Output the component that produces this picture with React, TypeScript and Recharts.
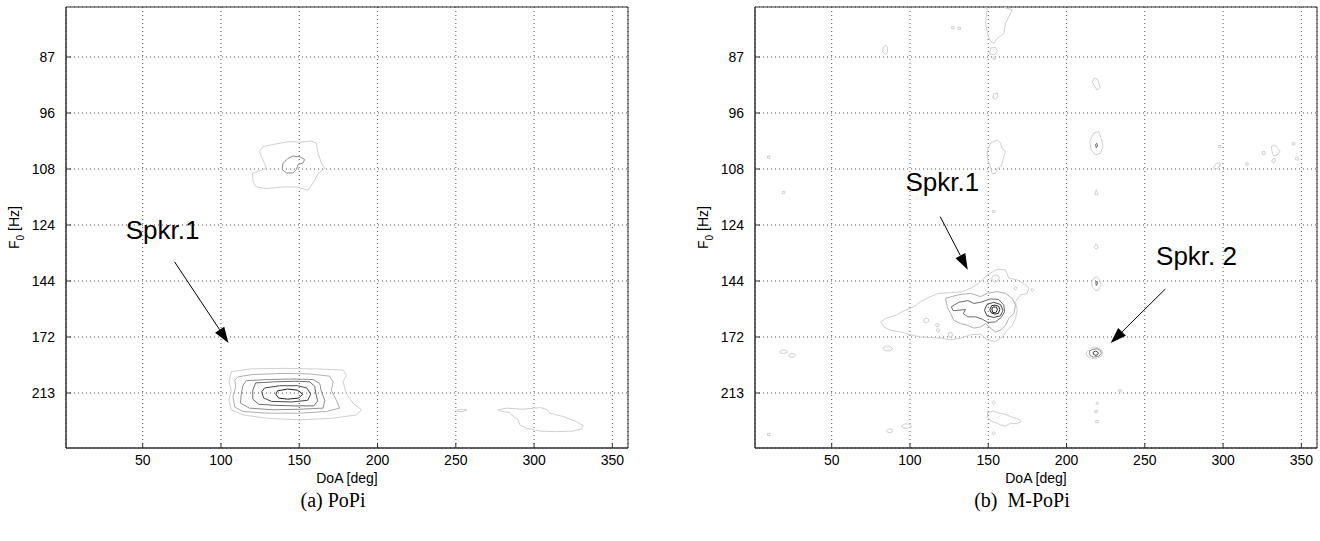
import React from 'react'
import { ScatterChart, Scatter, XAxis, YAxis, CartesianGrid, ReferenceLine, ReferenceDot, ReferenceArea } from 'recharts'

// Two contour maps (DoA x F0) redrawn as closed polylines on numeric axes.
// The F0 axis is uniform in pitch lag, so rows are indexed 1..7 at the tick labels.

type Pt = [number, number]
interface Contour { pts: Pt[]; level: number; open?: boolean }
interface Arrow { from: Pt; to: Pt }
interface Note { at: Pt; text: string }

const DOA_TICKS = [50, 100, 150, 200, 250, 300, 350]
const F0_ROWS = [1, 2, 3, 4, 5, 6, 7]
const F0_LABELS = ['87', '96', '108', '124', '144', '172', '213']
const DOA_DOMAIN: [number, number] = [1, 360]
const ROW_DOMAIN: [number, number] = [0.107, 7.982]

// outer (light) -> inner (dark)
const LEVEL_COLORS = ['#d0d0d0', '#b0b0b0', '#8e8e8e', '#6c6c6c', '#484848', '#202020']

// ---- (a) PoPi ----
const popiSpk1L1: Pt[] = [[106.6, 6.62], [118.3, 6.57], [139.6, 6.56], [161.0, 6.57], [178.0, 6.59], [180.1, 6.68], [178.0, 6.80], [180.1, 7.01], [184.3, 7.18], [189.7, 7.30], [186.5, 7.39], [171.6, 7.45], [150.3, 7.48], [129.0, 7.45], [114.1, 7.39], [106.6, 7.30], [105.1, 7.13], [106.6, 6.95], [105.1, 6.80]]
const popiSpk1L2: Pt[] = [[110.9, 6.71], [120.4, 6.67], [139.6, 6.65], [156.7, 6.66], [169.5, 6.70], [171.6, 6.80], [170.5, 6.95], [173.7, 7.13], [175.8, 7.27], [167.3, 7.33], [150.3, 7.36], [129.0, 7.36], [114.1, 7.33], [108.8, 7.25], [107.7, 7.07], [109.4, 6.89], [108.8, 6.77]]
const popiSpk1L3: Pt[] = [[116.2, 6.78], [129.0, 6.76], [146.0, 6.75], [158.8, 6.76], [163.1, 6.83], [164.2, 6.98], [166.3, 7.13], [165.2, 7.27], [150.3, 7.29], [133.2, 7.30], [118.2, 7.27], [112.4, 7.18], [113.0, 7.01], [114.1, 6.86]]
const popiSpk1L4: Pt[] = [[122.2, 6.82], [134.3, 6.80], [147.1, 6.79], [156.7, 6.80], [159.9, 6.88], [160.5, 7.00], [161.8, 7.14], [159.2, 7.23], [147.1, 7.23], [134.3, 7.22], [124.1, 7.20], [120.3, 7.11], [120.3, 6.95]]
const popiSpk1L5: Pt[] = [[127.9, 6.91], [137.5, 6.87], [149.0, 6.87], [154.8, 6.91], [157.3, 7.02], [155.4, 7.13], [145.2, 7.16], [132.4, 7.15], [127.3, 7.09], [126.0, 6.98]]
const popiSpk1L6: Pt[] = [[136.2, 6.96], [142.6, 6.93], [149.0, 6.95], [152.2, 7.02], [149.7, 7.09], [142.6, 7.11], [136.8, 7.09], [135.0, 7.02]]
const popiUpperOuter: Pt[] = [[124.7, 2.69], [126.8, 2.60], [135.4, 2.55], [143.9, 2.51], [150.3, 2.52], [157.8, 2.50], [161.0, 2.54], [162.0, 2.72], [164.2, 2.90], [166.3, 2.99], [162.0, 3.08], [159.9, 3.20], [157.8, 3.29], [155.6, 3.38], [152.4, 3.35], [148.2, 3.32], [139.6, 3.32], [129.0, 3.35], [122.6, 3.32], [120.5, 3.23], [120.1, 3.08], [125.8, 3.02], [129.0, 2.99], [127.9, 2.90], [125.8, 2.78]]
const popiUpperInner: Pt[] = [[139.6, 2.90], [142.8, 2.81], [146.0, 2.77], [150.3, 2.78], [153.5, 2.83], [152.4, 2.89], [149.2, 2.92], [148.2, 3.01], [146.0, 3.07], [141.8, 3.07], [139.2, 3.01]]
const popiSmallBlob: Pt[] = [[250.8, 7.30], [253.6, 7.29], [257.2, 7.30], [254.6, 7.33], [251.4, 7.33]]
const popiTailBlob: Pt[] = [[277.0, 7.30], [282.4, 7.27], [293.0, 7.29], [303.7, 7.26], [307.9, 7.29], [310.0, 7.36], [318.5, 7.42], [327.1, 7.51], [331.3, 7.58], [330.3, 7.64], [324.9, 7.68], [314.3, 7.69], [303.7, 7.68], [295.2, 7.63], [290.9, 7.57], [289.8, 7.48], [285.6, 7.39], [284.5, 7.35], [279.2, 7.33]]

const POPI_CONTOURS: Contour[] = [
  { pts: popiSpk1L1, level: 0 },
  { pts: popiSpk1L2, level: 1 },
  { pts: popiSpk1L3, level: 2 },
  { pts: popiSpk1L4, level: 3 },
  { pts: popiSpk1L5, level: 4 },
  { pts: popiSpk1L6, level: 5 },
  { pts: popiUpperOuter, level: 0 },
  { pts: popiUpperInner, level: 2 },
  { pts: popiSmallBlob, level: 0 },
  { pts: popiTailBlob, level: 0 },
]
const POPI_ARROWS: Arrow[] = [{ from: [70.4, 4.66], to: [104.8, 6.107] }]
const POPI_NOTES: Note[] = [{ at: [39.1, 4.257], text: 'Spkr.1' }]

// ---- (b) M-PoPi ----
const mSpk1Outer: Pt[] = [[151.4, 4.86], [155.7, 4.79], [161.0, 4.80], [163.1, 4.95], [168.5, 4.98], [172.7, 5.04], [175.9, 5.13], [174.9, 5.22], [170.6, 5.25], [167.4, 5.37], [168.5, 5.52], [167.4, 5.67], [165.3, 5.79], [162.1, 5.88], [158.9, 6.00], [154.6, 6.08], [149.3, 6.05], [145.1, 5.95], [138.7, 5.96], [132.3, 6.02], [125.9, 6.05], [119.6, 6.02], [113.2, 6.01], [106.8, 6.00], [100.4, 5.96], [94.0, 5.91], [87.6, 5.88], [83.3, 5.82], [81.2, 5.73], [84.4, 5.67], [90.8, 5.61], [97.2, 5.52], [102.5, 5.46], [106.8, 5.37], [112.1, 5.29], [118.5, 5.22], [125.9, 5.21], [133.4, 5.19], [138.7, 5.13], [144.0, 5.04], [148.3, 4.92]]
const mSpk1L2: Pt[] = [[122.7, 5.31], [130.2, 5.25], [138.7, 5.22], [145.1, 5.28], [149.3, 5.22], [155.7, 5.19], [161.0, 5.22], [165.3, 5.31], [167.4, 5.43], [166.3, 5.58], [163.1, 5.67], [161.0, 5.79], [157.8, 5.88], [154.6, 5.91], [151.4, 5.84], [148.3, 5.76], [145.1, 5.82], [140.8, 5.84], [136.6, 5.79], [132.3, 5.76], [128.0, 5.70], [125.9, 5.58], [123.8, 5.46]]
const mSpk1L3: Pt[] = [[126.4, 5.46], [131.2, 5.38], [137.0, 5.35], [140.8, 5.40], [145.1, 5.38], [151.4, 5.32], [156.7, 5.33], [159.9, 5.43], [160.4, 5.55], [158.3, 5.65], [154.6, 5.73], [149.7, 5.74], [146.1, 5.68], [141.9, 5.64], [137.0, 5.64], [134.0, 5.58], [135.5, 5.51], [131.9, 5.52], [127.6, 5.53]]
const mSpk1L4: Pt[] = [[147.6, 5.52], [149.2, 5.42], [153.5, 5.38], [157.8, 5.42], [159.4, 5.52], [157.8, 5.62], [153.5, 5.65], [149.2, 5.62]]
const mSpk1L5: Pt[] = [[151.0, 5.51], [152.2, 5.44], [154.2, 5.43], [156.6, 5.45], [157.4, 5.51], [156.4, 5.58], [154.2, 5.59], [152.0, 5.57]]
const mSpk1L6: Pt[] = [[152.3, 5.50], [153.2, 5.46], [155.4, 5.47], [155.8, 5.52], [154.6, 5.57], [152.8, 5.56]]
const mSpk2Outer: Pt[] = [[213.2, 6.26], [215.3, 6.20], [218.5, 6.18], [222.1, 6.22], [223.4, 6.29], [221.6, 6.36], [217.4, 6.39], [213.5, 6.35], [212.5, 6.30]]
const mSpk2Mid: Pt[] = [[214.6, 6.25], [216.9, 6.22], [219.5, 6.21], [221.6, 6.24], [222.2, 6.29], [220.8, 6.34], [217.4, 6.36], [215.0, 6.33]]
const mSpk2Inner: Pt[] = [[217.0, 6.27], [218.5, 6.25], [220.0, 6.27], [220.3, 6.30], [218.8, 6.33], [217.2, 6.31]]
const mCol155Top: Pt[] = [[149.3, 0.11], [148.9, 0.25], [148.3, 0.40], [149.3, 0.55], [151.0, 0.70], [153.5, 0.76], [155.7, 0.67], [159.9, 0.58], [161.0, 0.40], [163.1, 0.28], [165.3, 0.16], [159.9, 0.11]]
const mCol155At87: Pt[] = [[151.4, 0.84], [154.6, 0.83], [155.9, 0.89], [154.0, 0.96], [150.8, 0.95]]
const mCol155At96: Pt[] = [[153.5, 1.66], [155.7, 1.64], [156.2, 1.70], [154.6, 1.76], [153.0, 1.73]]
const mCol155At108: Pt[] = [[151.4, 2.54], [155.7, 2.48], [157.8, 2.54], [158.9, 2.63], [161.0, 2.69], [159.9, 2.78], [158.9, 2.90], [157.8, 2.96], [155.7, 2.99], [154.6, 3.08], [152.5, 3.08], [151.4, 2.96], [149.7, 2.84], [149.3, 2.69]]
const mCol155Bottom: Pt[] = [[149.3, 7.35], [153.5, 7.32], [156.7, 7.36], [161.0, 7.38], [164.2, 7.42], [169.5, 7.47], [171.0, 7.51], [168.5, 7.55], [164.2, 7.54], [161.0, 7.59], [157.8, 7.57], [155.7, 7.54], [152.5, 7.51], [149.7, 7.45]]
const mCol221At87: Pt[] = [[217.8, 1.38], [219.9, 1.40], [220.6, 1.47], [221.6, 1.54], [219.5, 1.59], [217.4, 1.50], [216.4, 1.44]]
const mCol221At108: Pt[] = [[217.4, 2.36], [220.6, 2.33], [222.1, 2.45], [223.4, 2.60], [221.6, 2.72], [218.5, 2.75], [215.7, 2.66], [214.8, 2.51]]
const mCol221At108Core: Pt[] = [[218.5, 2.56], [219.3, 2.54], [219.8, 2.59], [219.0, 2.62]]
const mCol221At144: Pt[] = [[217.4, 4.95], [219.5, 4.92], [221.2, 4.98], [222.1, 5.07], [220.6, 5.16], [218.5, 5.17], [216.5, 5.10], [216.1, 5.01]]
const mCol221At144Core: Pt[] = [[218.7, 5.02], [219.4, 5.00], [219.8, 5.05], [219.0, 5.08]]
const mSpecks: Pt[][] = [
  [[9.0, 2.77], [10.6, 2.77], [10.6, 2.81], [9.0, 2.81]],
  [[18.5, 3.40], [20.1, 3.40], [20.1, 3.44], [18.5, 3.44]],
  [[16.8, 6.26], [18.5, 6.23], [21.2, 6.24], [21.9, 6.27], [20.0, 6.29], [17.5, 6.29]],
  [[22.5, 6.33], [24.0, 6.29], [26.3, 6.30], [27.0, 6.33], [25.5, 6.36], [23.3, 6.36]],
  [[9.0, 7.72], [10.6, 7.72], [10.6, 7.76], [9.0, 7.76]],
  [[83.0, 0.82], [84.3, 0.79], [85.6, 0.83], [85.7, 0.92], [84.3, 0.95], [82.6, 0.91]],
  [[82.5, 6.20], [84.5, 6.16], [87.8, 6.17], [88.9, 6.21], [87.0, 6.25], [83.8, 6.24]],
  [[85.1, 7.67], [86.5, 7.64], [88.6, 7.65], [88.9, 7.69], [87.2, 7.71], [85.6, 7.70]],
  [[94.6, 7.59], [96.8, 7.55], [100.4, 7.56], [101.0, 7.60], [98.5, 7.63], [95.4, 7.62]],
  [[126.6, 0.455], [128.2, 0.455], [128.2, 0.495], [126.6, 0.495]],
  [[130.7, 0.47], [132.3, 0.47], [132.3, 0.51], [130.7, 0.51]],
  [[330.8, 2.60], [333.0, 2.57], [334.6, 2.62], [336.4, 2.68], [335.0, 2.74], [332.4, 2.77], [331.4, 2.70]],
  [[325.0, 2.69], [326.8, 2.69], [326.8, 2.74], [325.0, 2.74]],
  [[331.0, 2.86], [332.0, 2.81], [333.4, 2.82], [333.2, 2.87], [332.0, 2.89]],
  [[344.2, 2.53], [345.8, 2.53], [345.8, 2.57], [344.2, 2.57]],
  [[346.4, 2.79], [348.0, 2.79], [348.0, 2.84], [346.4, 2.84]],
  [[293.9, 2.97], [295.5, 2.90], [297.8, 2.89], [298.4, 2.93], [296.6, 2.99], [294.6, 3.00]],
  [[297.0, 2.58], [298.6, 2.58], [298.6, 2.62], [297.0, 2.62]],
  [[314.5, 2.89], [316.1, 2.89], [316.1, 2.93], [314.5, 2.93]],
  [[233.4, 6.94], [235.0, 6.94], [235.0, 6.98], [233.4, 6.98]],
  [[108.8, 5.69], [110.2, 5.66], [111.8, 5.68], [112.0, 5.72], [110.6, 5.75], [109.0, 5.73]],
  [[116.2, 5.78], [117.4, 5.76], [118.6, 5.78], [118.4, 5.81], [117.2, 5.82]],
  [[116.6, 5.87], [117.8, 5.85], [119.0, 5.87], [118.8, 5.90], [117.6, 5.91]],
  [[124.3, 5.96], [125.0, 5.92], [126.6, 5.92], [127.4, 5.96], [126.6, 6.00], [125.0, 6.00]],
  [[166.4, 5.12], [167.6, 5.10], [168.6, 5.13], [167.4, 5.16]],
  [[177.1, 5.15], [178.3, 5.13], [179.3, 5.16], [178.1, 5.19]],
  [[152.0, 4.96], [153.2, 4.90], [155.5, 4.89], [157.1, 4.94], [156.2, 5.00], [153.7, 5.02]],
  [[152.7, 3.74], [154.3, 3.74], [154.3, 3.78], [152.7, 3.78]],
  [[152.3, 7.17], [153.5, 7.14], [154.7, 7.17], [153.5, 7.20]],
  [[152.3, 7.72], [153.5, 7.69], [154.7, 7.72], [153.5, 7.75]],
  [[153.1, 1.00], [154.7, 1.00], [154.7, 1.04], [153.1, 1.04]],
  [[218.7, 7.18], [219.6, 7.155], [220.5, 7.18], [219.6, 7.214]],
  [[218.1, 7.31], [219.7, 7.31], [219.7, 7.35], [218.1, 7.35]],
  [[218.7, 7.49], [220.3, 7.49], [220.3, 7.53], [218.7, 7.53]],
  [[217.8, 4.40], [218.6, 4.34], [219.6, 4.35], [220.2, 4.41], [219.0, 4.43]],
  [[218.0, 3.46], [219.0, 3.37], [220.3, 3.46]],
]

const M_CONTOURS: Contour[] = [
  { pts: mSpk1Outer, level: 0 },
  { pts: mSpk1L2, level: 1 },
  { pts: mSpk1L3, level: 3 },
  { pts: mSpk1L4, level: 4 },
  { pts: mSpk1L5, level: 5 },
  { pts: mSpk1L6, level: 5 },
  { pts: mSpk2Outer, level: 0 },
  { pts: mSpk2Mid, level: 2 },
  { pts: mSpk2Inner, level: 4 },
  { pts: mCol155Top, level: 0, open: true },
  { pts: mCol155At87, level: 0 },
  { pts: mCol155At96, level: 0 },
  { pts: mCol155At108, level: 0 },
  { pts: mCol155Bottom, level: 0 },
  { pts: mCol221At87, level: 0 },
  { pts: mCol221At108, level: 0 },
  { pts: mCol221At108Core, level: 3 },
  { pts: mCol221At144, level: 0 },
  { pts: mCol221At144Core, level: 3 },
  ...mSpecks.map((pts) => ({ pts, level: 0 })),
]
const M_ARROWS: Arrow[] = [
  { from: [119.3, 3.85], to: [136.9, 4.80] },
  { from: [263.1, 5.143], to: [228.2, 6.109] },
]
const M_NOTES: Note[] = [
  { at: [97.1, 3.393], text: 'Spkr.1' },
  { at: [257.2, 4.72], text: 'Spkr. 2' },
]

const SANS = '"Liberation Sans", Arial, Helvetica, sans-serif'
const SERIF = '"Liberation Serif", "Times New Roman", serif'
const FRAME = '#333'

const EmptyShape = () => <g />

const ArrowShape = (p: any) => {
  const { x1, y1, x2, y2 } = p
  const len = Math.hypot(x2 - x1, y2 - y1) || 1
  const ux = (x2 - x1) / len
  const uy = (y2 - y1) / len
  const hl = 16
  const hw = 5.5
  const bx = x2 - ux * hl
  const by = y2 - uy * hl
  return (
    <g>
      <line x1={x1} y1={y1} x2={bx} y2={by} stroke="#000" strokeWidth={1} />
      <polygon points={`${x2},${y2} ${bx - uy * hw},${by + ux * hw} ${bx + uy * hw},${by - ux * hw}`} fill="#000" />
    </g>
  )
}

function Panel({ contours, arrows, notes, caption, yAxisWidth, rightMargin }: {
  contours: Contour[]; arrows: Arrow[]; notes: Note[]; caption: string; yAxisWidth: number; rightMargin: number
}) {
  return (
    <ScatterChart width={660} height={541} margin={{ top: 7, right: rightMargin, bottom: 63, left: 0 }}>
      <CartesianGrid stroke="#555" strokeDasharray="1 3" />
      <XAxis
        type="number" dataKey="x" domain={DOA_DOMAIN} ticks={DOA_TICKS} allowDataOverflow height={30}
        tickSize={-5} tickMargin={12} axisLine={{ stroke: FRAME }} tickLine={{ stroke: FRAME }}
        tick={{ fontSize: 14, fill: '#000', fontFamily: SANS }}
        label={{
          content: (lp: any) => {
            const vb = lp.viewBox
            const cx = vb.x + vb.width / 2
            return (
              <g>
                <text x={cx} y={vb.y + 35} textAnchor="middle" fontSize={14} fontFamily={SANS} fill="#000">DoA [deg]</text>
                <text x={cx - 14} y={vb.y + 59} textAnchor="middle" fontSize={20} fontFamily={SERIF} fill="#000" style={{ whiteSpace: 'pre' }}>{caption}</text>
              </g>
            )
          },
        }}
      />
      <XAxis
        xAxisId="top" orientation="top" type="number" domain={DOA_DOMAIN} ticks={DOA_TICKS} allowDataOverflow height={0}
        tick={false} tickSize={-5} axisLine={false} tickLine={{ stroke: FRAME }}
      />
      <YAxis
        type="number" dataKey="y" domain={ROW_DOMAIN} reversed ticks={F0_ROWS} allowDataOverflow width={yAxisWidth}
        tickFormatter={(v: number) => F0_LABELS[Math.round(v) - 1]}
        tickSize={-5} tickMargin={16} axisLine={{ stroke: FRAME }} tickLine={{ stroke: FRAME }}
        tick={{ fontSize: 14, fill: '#000', fontFamily: SANS }}
        label={{
          content: (lp: any) => {
            const vb = lp.viewBox
            const tx = vb.x + vb.width - 47
            const ty = vb.y + vb.height / 2
            return (
              <text transform={`translate(${tx},${ty}) rotate(-90)`} textAnchor="middle" fontSize={14} fontFamily={SANS} fill="#000">
                F<tspan dy={5} fontSize={10}>0</tspan><tspan dy={-5}> [Hz]</tspan>
              </text>
            )
          },
        }}
      />
      <YAxis
        yAxisId="right" orientation="right" type="number" domain={ROW_DOMAIN} reversed ticks={F0_ROWS} allowDataOverflow
        width={0} tick={false} tickSize={-5} axisLine={false} tickLine={{ stroke: FRAME }}
      />
      {contours.map((c, i) => (
        <Scatter
          key={i}
          data={(c.open ? c.pts : [...c.pts, c.pts[0]]).map(([x, y]) => ({ x, y }))}
          line={{ stroke: LEVEL_COLORS[c.level], strokeWidth: 1 }}
          lineType="joint"
          shape={EmptyShape}
          fill={LEVEL_COLORS[c.level]}
          isAnimationActive={false}
        />
      ))}
      <ReferenceArea
        x1={DOA_DOMAIN[0]} x2={DOA_DOMAIN[1]} y1={ROW_DOMAIN[0]} y2={ROW_DOMAIN[1]}
        fill="none" fillOpacity={0} stroke={FRAME} strokeWidth={1} strokeOpacity={1} ifOverflow="visible"
      />
      {arrows.map((a, i) => (
        <ReferenceLine
          key={`a${i}`}
          segment={[{ x: a.from[0], y: a.from[1] }, { x: a.to[0], y: a.to[1] }]}
          shape={ArrowShape}
          ifOverflow="visible"
        />
      ))}
      {notes.map((n, i) => (
        <ReferenceDot
          key={`n${i}`}
          x={n.at[0]}
          y={n.at[1]}
          r={0}
          ifOverflow="visible"
          shape={(p: any) => (
            <text x={p.cx} y={p.cy} fontSize={26} fontFamily={SANS} fill="#000" style={{ whiteSpace: 'pre' }}>{n.text}</text>
          )}
        />
      ))}
    </ScatterChart>
  )
}

export default function App() {
  return (
    <div style={{ position: 'absolute', left: 0, top: 0, width: 1320, height: 541, background: '#fff' }}>
      <div style={{ position: 'absolute', left: 0, top: 0 }}>
        <Panel contours={POPI_CONTOURS} arrows={POPI_ARROWS} notes={POPI_NOTES} caption="(a) PoPi" yAxisWidth={66} rightMargin={32} />
      </div>
      <div style={{ position: 'absolute', left: 660, top: 0 }}>
        <Panel contours={M_CONTOURS} arrows={M_ARROWS} notes={M_NOTES} caption="(b)  M-PoPi" yAxisWidth={95} rightMargin={3} />
      </div>
    </div>
  )
}
